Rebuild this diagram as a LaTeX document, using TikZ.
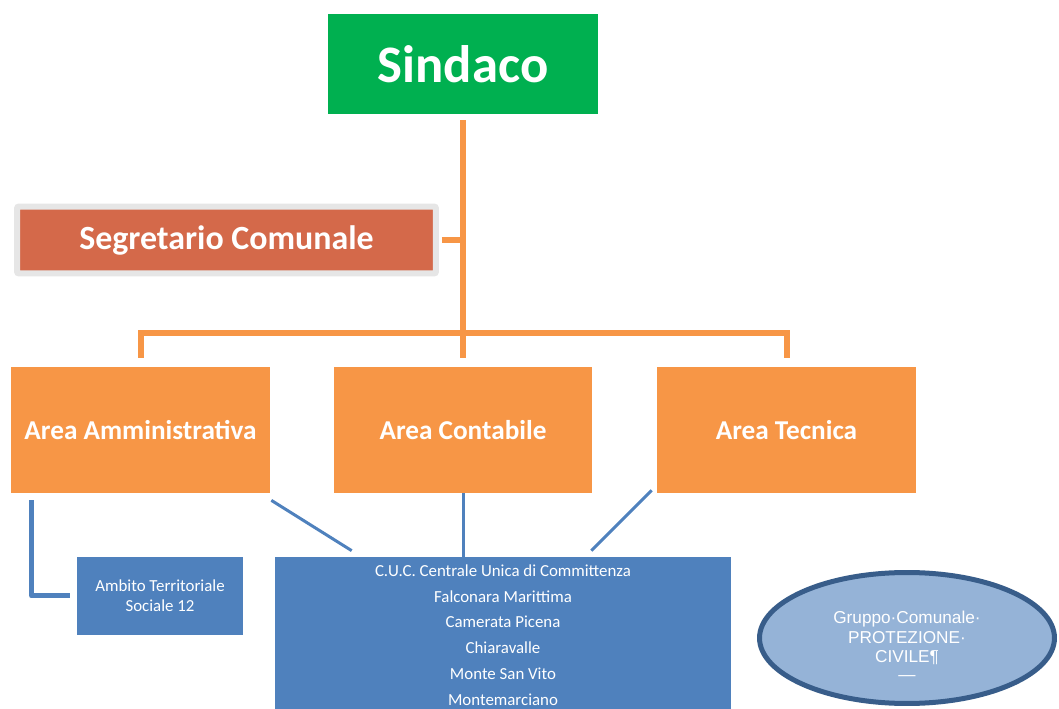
\documentclass[tikz,border=0pt]{standalone}
\usepackage{fontspec}
\setmainfont{Carlito}
\newfontfamily\arialfont{Liberation Sans}
\usepackage{tikz}
\usetikzlibrary{calc,shapes.geometric}
\usepackage{xcolor}
\definecolor{sindacogreen}{HTML}{00B050}
\definecolor{segrred}{HTML}{D4694A}
\definecolor{segrframe}{HTML}{E6E6E6}
\definecolor{areaorange}{HTML}{F79646}
\definecolor{unitblue}{HTML}{4F81BD}
\definecolor{civfill}{HTML}{95B3D7}
\definecolor{civline}{HTML}{385D8A}

\begin{document}
\begin{tikzpicture}[x=0.02cm,y=-0.02cm,
        box/.style={rectangle,inner sep=0pt,text=white,align=center},
        areabox/.style={box,fill=areaorange,minimum width=5.18cm,minimum height=2.52cm,font=\bfseries\fontsize{15.5}{18}\selectfont},
        unitbox/.style={box,fill=unitblue,font=\fontsize{9.6}{14.7}\selectfont},
        orgline/.style={areaorange,line width=0.12cm},
        unitline/.style={unitblue,line width=0.06cm}]
        \useasboundingbox (0,0) rectangle (1059,709);
        \node[box,fill=sindacogreen,minimum width=5.42cm,minimum height=2cm,font=\bfseries\fontsize{30}{36}\selectfont] (sindaco) at (463,64) {Sindaco};
        \node[box,fill=segrred,draw=segrframe,line width=0.12cm,rounded corners=0.04cm,minimum width=8.38cm,minimum height=1.34cm,font=\bfseries\fontsize{19.3}{23}\selectfont] (segr) at (226.5,240) {Segretario Comunale};
        \node[areabox] (amm) at (140.5,430) {Area Amministrativa};
        \node[areabox] (cont) at (463,430) {Area Contabile};
        \node[areabox] (tec) at (786.5,430) {Area Tecnica};
        \node[unitbox,minimum width=3.32cm,minimum height=1.56cm,font=\fontsize{9.6}{11.3}\selectfont] (ambito) at (160,596) {Ambito Territoriale\\Sociale 12};
        \node[unitbox,minimum width=9.12cm,minimum height=3.12cm] (cuc) at (503,635) {C.U.C. Centrale Unica di Committenza\\Falconara Marittima\\Camerata Picena\\Chiaravalle\\Monte San Vito\\Montemarciano};
        \node[ellipse,fill=civfill,draw=civline,line width=0.1cm,inner sep=0pt,minimum width=5.9cm,minimum height=2.62cm,text=white,align=center,font=\arialfont\fontsize{9.8}{11.3}\selectfont] (protciv) at (907,638) {\rule{0pt}{16pt}Gruppo·Comunale·\\PROTEZIONE·\\CIVILE¶\\[-1pt]—};
        \coordinate (bar) at (463,333);
        \draw[orgline,shorten <=0.12cm,shorten >=0.18cm] (sindaco.south) -- (cont.north);
        \draw[orgline,shorten <=0.18cm,shorten >=0.18cm] (amm.north) |- (bar) -| (tec.north);
        \draw[orgline,shorten <=0.06cm] (segr.east) -- (segr.east -| sindaco.south);
        \draw[unitline,line width=0.1cm,line join=round] ($(amm.south west)+(21,7)$) |- ($(ambito.west)+(-7,0)$);
        \draw[unitline] ($(amm.south east)+(1,7)$) -- ($(cuc.north west)+(77,-6)$);
        \draw[unitline] (cont.south) -- (cont.south |- cuc.north);
        \draw[unitline] ($(tec.south west)+(-5,-3)$) -- ($(cuc.north east)+(-140,-6)$);
    \end{tikzpicture}
\end{document}
